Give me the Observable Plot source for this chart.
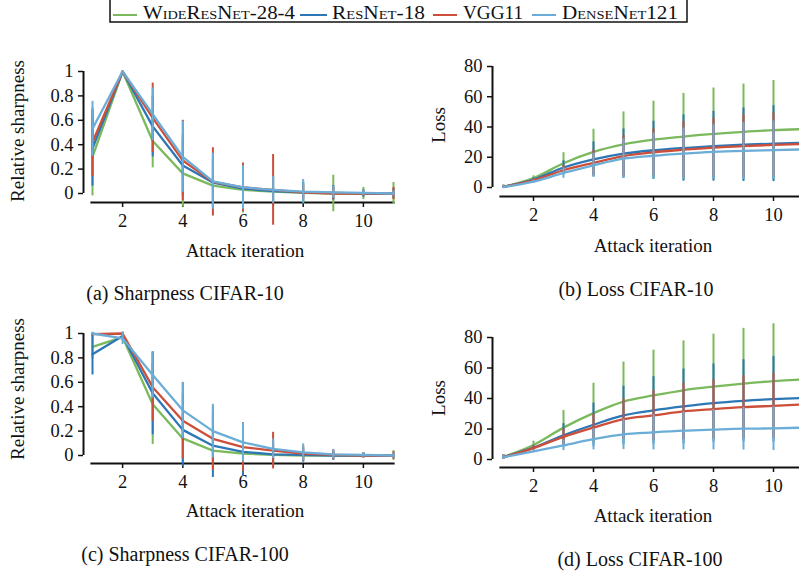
<!DOCTYPE html>
<html><head><meta charset="utf-8">
<script src="https://cdn.jsdelivr.net/npm/d3@7"></script>
<script src="https://cdn.jsdelivr.net/npm/@observablehq/plot@0.6"></script>
<style>
html,body{margin:0;padding:0;background:#fff;overflow:hidden;}
#root{position:relative;width:799px;height:573px;overflow:hidden;font-family:"Liberation Serif",serif;}
.panel{position:absolute;}
.panel svg{max-width:none !important;}
#overlay{position:absolute;left:0;top:0;}
</style></head><body><div id="root"></div>
<script>
// ---------- data ----------
const iterations = [1, 2, 3, 4, 5, 6, 7, 8, 9, 10, 11];
const xTicks = [2, 4, 6, 8, 10];
const models = ["WideResNet-28-4", "ResNet-18", "VGG11", "DenseNet121"];
const colors = ["#7bb95d", "#2c77b6", "#cd4f3a", "#6badd7"];
const sharpTicks = [0, 0.2, 0.4, 0.6, 0.8, 1];
const lossTicks = [0, 20, 40, 60, 80];

// (a) Sharpness CIFAR-10
const sharpC10_wrn      = [0.30, 1, 0.43, 0.165, 0.065, 0.03, 0.015, 0.005, 0, 0, 0];
const sharpC10_wrn_sd   = [0.32, 0, 0.22, 0.275, 0.20, 0.19, 0.12, 0.08, 0.15, 0.05, 0.09];
const sharpC10_res      = [0.37, 1, 0.55, 0.23, 0.09, 0.04, 0.02, 0.01, 0.005, 0, 0];
const sharpC10_res_sd   = [0.31, 0, 0.25, 0.25, 0.20, 0.17, 0.12, 0.08, 0.06, 0.03, 0.04];
const sharpC10_vgg      = [0.42, 1, 0.62, 0.27, 0.095, 0.05, 0.03, 0.01, 0, 0, 0];
const sharpC10_vgg_sd   = [0.28, 0, 0.285, 0.33, 0.28, 0.20, 0.29, 0.06, 0.05, 0.02, 0.05];
const sharpC10_dense    = [0.53, 1, 0.65, 0.30, 0.10, 0.05, 0.03, 0.015, 0.01, 0.005, 0];
const sharpC10_dense_sd = [0.225, 0, 0.215, 0.29, 0.23, 0.18, 0.11, 0.10, 0.05, 0.02, 0.02];

// (b) Loss CIFAR-10
const lossC10_wrn      = [0.5, 6.2, 16, 23.5, 28.5, 31.6, 33.7, 35.5, 36.8, 37.9, 38.6];
const lossC10_wrn_sd   = [1, 1.5, 7, 15, 21.5, 25.5, 28.5, 30.3, 31.6, 32.8, 33.5];
const lossC10_res      = [0.5, 5.2, 13.2, 18.6, 22.4, 24.6, 26.1, 27.3, 28.3, 29.0, 29.6];
const lossC10_res_sd   = [1, 1.2, 4.5, 11.5, 16.3, 19.2, 21.9, 23.1, 24.3, 25.1, 25.5];
const lossC10_vgg      = [0.5, 4.8, 11.4, 16.3, 20.8, 23.3, 25.0, 26.4, 27.4, 28.2, 28.7];
const lossC10_vgg_sd   = [1, 1, 3, 8.5, 13.5, 15.5, 18.5, 19.4, 20.8, 21.1, 21.5];
const lossC10_dense    = [0.3, 3.9, 9.6, 14.7, 19.1, 21.0, 22.4, 23.5, 24.2, 24.7, 25.2];
const lossC10_dense_sd = [1, 1, 3.5, 8, 13, 15, 17, 18, 18.8, 19.3, 19.5];

// (c) Sharpness CIFAR-100
const sharpC100_wrn      = [0.89, 0.97, 0.42, 0.14, 0.04, 0.015, 0.005, 0, 0, 0, 0];
const sharpC100_wrn_sd   = [0.10, 0.03, 0.33, 0.20, 0.15, 0.12, 0.08, 0.05, 0.03, 0.02, 0.04];
const sharpC100_res      = [0.83, 0.98, 0.51, 0.21, 0.08, 0.03, 0.01, 0.005, 0, 0, 0];
const sharpC100_res_sd   = [0.17, 0.03, 0.34, 0.30, 0.26, 0.20, 0.10, 0.06, 0.04, 0.02, 0.02];
const sharpC100_vgg      = [0.995, 1.0, 0.56, 0.285, 0.137, 0.068, 0.04, 0.015, 0.005, 0, 0];
const sharpC100_vgg_sd   = [0.01, 0.01, 0.28, 0.31, 0.26, 0.20, 0.15, 0.06, 0.04, 0.02, 0.03];
const sharpC100_dense    = [1.0, 0.96, 0.66, 0.37, 0.20, 0.107, 0.055, 0.025, 0.01, 0.005, 0];
const sharpC100_dense_sd = [0.01, 0.05, 0.19, 0.23, 0.22, 0.16, 0.08, 0.07, 0.04, 0.02, 0.02];

// (d) Loss CIFAR-100
const lossC100_wrn      = [1.7, 9.5, 20.9, 30.4, 38, 42, 45.4, 47.8, 49.8, 51.4, 52.6];
const lossC100_wrn_sd   = [1.5, 2.5, 11.3, 19.6, 25.9, 29.7, 32.4, 34.4, 36.2, 37.6, 38.2];
const lossC100_res      = [1.6, 7.8, 15.9, 22.8, 28.9, 32.2, 34.8, 37, 38.5, 39.6, 40.4];
const lossC100_res_sd   = [1.5, 1.5, 7.6, 14.2, 19.1, 22.1, 24.5, 25.6, 26.9, 28, 28.5];
const lossC100_vgg      = [1.5, 7.5, 14.8, 20.9, 26.5, 28.9, 31.5, 33, 34.3, 35.2, 36.1];
const lossC100_vgg_sd   = [1.5, 1.5, 5.2, 9, 13.3, 16.3, 18.5, 19.4, 20.7, 21.3, 21.5];
const lossC100_dense    = [1.5, 5.4, 9.3, 13.3, 16.5, 17.8, 18.9, 19.6, 20.2, 20.4, 20.9];
const lossC100_dense_sd = [1.5, 1, 3.5, 7, 10, 11.5, 12.5, 13.3, 14, 14.5, 14.8];

const yLabels = ["Relative sharpness", "Loss"];
const xLabel = "Attack iteration";
const captions = ["(a) Sharpness CIFAR-10", "(b) Loss CIFAR-10", "(c) Sharpness CIFAR-100", "(d) Loss CIFAR-100"];

// ---------- drawing ----------
const ink = "#111";
const root = document.getElementById("root");

function panel(cfg) {
  const marks = [
    Plot.frame({anchor: "bottom", insetLeft: cfg.baseInset, stroke: ink, strokeWidth: 2.2}),
    Plot.ruleX([iterations[0]], {y1: cfg.yDomain[0], y2: cfg.yDomain[1], dx: -cfg.insetLeft, stroke: ink, strokeWidth: 2}),
    Plot.axisY({ticks: cfg.yTicks, tickSize: 5, tickPadding: 5, tickFormat: d3.format("~g"), strokeWidth: 1.5, label: null,
      fontSize: 18.5, fontFamily: "'Liberation Serif', serif", fill: ink}),
    Plot.axisX({ticks: xTicks, tickSize: 5, tickPadding: 6, tickFormat: d3.format("d"), strokeWidth: 1.5, label: null,
      fontSize: 18.5, fontFamily: "'Liberation Serif', serif", fill: ink})
  ];
  models.forEach((m, i) => {
    const rows = iterations.map((x, j) => ({x, y: cfg.means[i][j], sd: cfg.sds[i][j], model: m}));
    marks.push(Plot.line(rows, {x: "x", y: "y", stroke: colors[i], strokeWidth: 2.3, curve: cfg.curve}));
    marks.push(Plot.ruleX(rows, {x: "x", y1: d => d.y - d.sd, y2: d => d.y + d.sd, stroke: colors[i], strokeWidth: 2}));
  });
  const chart = Plot.plot({
    width: cfg.width, height: cfg.height,
    marginLeft: cfg.marginLeft, marginRight: cfg.marginRight,
    marginTop: cfg.marginTop, marginBottom: cfg.marginBottom,
    x: {domain: [iterations[0], iterations[iterations.length - 1]], insetLeft: cfg.insetLeft, insetRight: 0},
    y: {domain: cfg.yDomain, insetBottom: cfg.insetBottom, insetTop: 0},
    style: {fontFamily: "'Liberation Serif', serif", fontSize: "18.5px", color: ink, background: "transparent", overflow: "visible", maxWidth: "none"},
    marks
  });
  chart.style.maxWidth = "none";
  chart.setAttribute("width", cfg.width);
  const div = document.createElement("div");
  div.className = "panel";
  div.style.left = cfg.left + "px";
  div.style.top = cfg.top + "px";
  div.style.width = cfg.width + "px";
  div.style.height = cfg.height + "px";
  div.appendChild(chart);
  root.appendChild(div);
}

panel({left: 0, top: 40, width: 400, height: 202, marginLeft: 83, marginRight: 7, marginTop: 31, marginBottom: 40,
  insetLeft: 9, baseInset: 8, insetBottom: 9, yDomain: [0, 1], yTicks: sharpTicks, curve: "linear",
  means: [sharpC10_wrn, sharpC10_res, sharpC10_vgg, sharpC10_dense],
  sds: [sharpC10_wrn_sd, sharpC10_res_sd, sharpC10_vgg_sd, sharpC10_dense_sd]});
panel({left: 400, top: 40, width: 410, height: 196, marginLeft: 92, marginRight: 7, marginTop: 26, marginBottom: 40,
  insetLeft: 11, baseInset: 8, insetBottom: 9, yDomain: [0, 80], yTicks: lossTicks, curve: "monotone-x",
  means: [lossC10_wrn, lossC10_res, lossC10_vgg, lossC10_dense],
  sds: [lossC10_wrn_sd, lossC10_res_sd, lossC10_vgg_sd, lossC10_dense_sd]});
panel({left: 0, top: 300, width: 400, height: 203, marginLeft: 83, marginRight: 7, marginTop: 33, marginBottom: 40,
  insetLeft: 9, baseInset: 8, insetBottom: 8, yDomain: [0, 1], yTicks: sharpTicks, curve: "linear",
  means: [sharpC100_wrn, sharpC100_res, sharpC100_vgg, sharpC100_dense],
  sds: [sharpC100_wrn_sd, sharpC100_res_sd, sharpC100_vgg_sd, sharpC100_dense_sd]});
panel({left: 400, top: 300, width: 410, height: 207, marginLeft: 92, marginRight: 7, marginTop: 37, marginBottom: 40,
  insetLeft: 11, baseInset: 8, insetBottom: 8, yDomain: [0, 80], yTicks: lossTicks, curve: "monotone-x",
  means: [lossC100_wrn, lossC100_res, lossC100_vgg, lossC100_dense],
  sds: [lossC100_wrn_sd, lossC100_res_sd, lossC100_vgg_sd, lossC100_dense_sd]});

// ---------- overlay: labels, captions, legend ----------
const svg = d3.select(root).append("svg").attr("id", "overlay")
  .attr("width", 799).attr("height", 573)
  .style("font-family", "'Liberation Serif', serif").style("fill", ink);

[[24, 131, 0], [24, 389, 0], [445, 125, 1], [445, 398, 1]].forEach(([x, y, k]) => {
  svg.append("text").attr("transform", `translate(${x},${y}) rotate(-90)`)
    .attr("text-anchor", "middle").style("font-size", "19px").text(yLabels[k]);
});
[[245, 257], [653, 252], [245, 517], [653, 522]].forEach(([x, y]) => {
  svg.append("text").attr("x", x).attr("y", y).attr("text-anchor", "middle")
    .style("font-size", "19px").text(xLabel);
});
[[185, 300], [636, 296], [185, 561], [640, 566]].forEach(([x, y], i) => {
  svg.append("text").attr("x", x).attr("y", y).attr("text-anchor", "middle")
    .style("font-size", "20px").text(captions[i]);
});

// legend
svg.append("rect").attr("x", 110).attr("y", -6).attr("width", 577).attr("height", 28)
  .attr("fill", "none").attr("stroke", ink).attr("stroke-width", 1.5);
const legendPos = [[113, 137, 143, 152], [300, 327, 332, 93], [433, 457, 463, 60], [532, 556, 562, 116]];
models.forEach((m, i) => {
  const [x1, x2, tx, tw] = legendPos[i];
  svg.append("line").attr("x1", x1).attr("x2", x2).attr("y1", 15).attr("y2", 15)
    .attr("stroke", colors[i]).attr("stroke-width", 2);
  svg.append("text").attr("x", tx).attr("y", 19).style("font-size", "19px")
    .style("font-variant", "small-caps").attr("textLength", tw).attr("lengthAdjust", "spacingAndGlyphs")
    .text(m);
});
</script></body></html>
